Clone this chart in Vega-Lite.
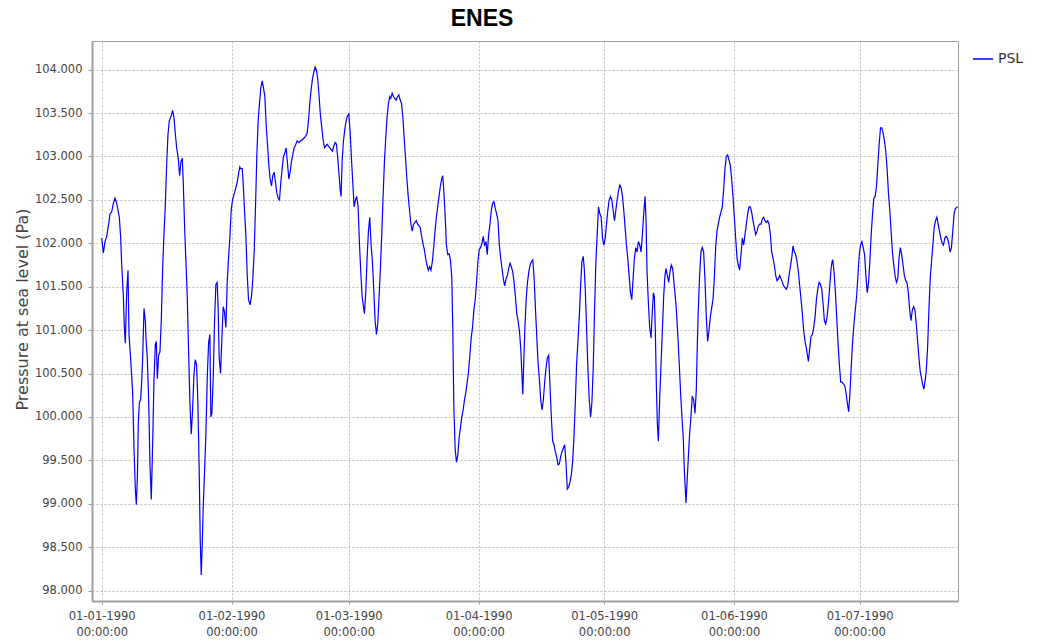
{
  "$schema": "https://vega.github.io/schema/vega-lite/v6.json",
  "width": 866,
  "height": 560,
  "autosize": "none",
  "padding": {"left": 92, "top": 41, "right": 84, "bottom": 41},
  "background": "white",
  "title": {"text": "ENES", "font": "Liberation Sans", "fontSize": 23, "fontWeight": "bold", "color": "#000000", "anchor": "middle", "frame": "group", "dx": -43, "dy": 22, "offset": 14, "baseline": "alphabetic"},
  "config": {
    "view": {"stroke": "#a0a0a0", "strokeWidth": 1},
    "axis": {"labelFont": "DejaVu Sans", "labelColor": "#444444", "domainColor": "#a0a0a0", "domainWidth": 2, "tickColor": "#a0a0a0", "gridColor": "#bdbdbd", "gridDash": [2, 2], "gridWidth": 1}
  },
  "data": {"values": [
{"day":0.00,"psl":102060},{"day":0.40,"psl":101890},{"day":0.79,"psl":102020},{"day":1.19,"psl":102080},{"day":1.59,"psl":102200},{"day":1.99,"psl":102340},{"day":2.38,"psl":102360},{"day":2.78,"psl":102460},{"day":3.18,"psl":102520},{"day":3.58,"psl":102460},{"day":4.21,"psl":102300},{"day":4.53,"psl":102060},{"day":4.77,"psl":101750},{"day":5.17,"psl":101390},{"day":5.41,"psl":101030},{"day":5.64,"psl":100850},{"day":5.96,"psl":101430},{"day":6.28,"psl":101690},{"day":6.52,"psl":100950},{"day":6.92,"psl":100660},{"day":7.39,"psl":100280},{"day":7.71,"psl":99640},{"day":8.03,"psl":99170},{"day":8.27,"psl":98990},{"day":8.51,"psl":99290},{"day":8.74,"psl":99920},{"day":8.98,"psl":100160},{"day":9.30,"psl":100200},{"day":9.54,"psl":100400},{"day":9.78,"psl":100680},{"day":10.10,"psl":101250},{"day":10.41,"psl":101110},{"day":10.57,"psl":100910},{"day":10.89,"psl":100680},{"day":11.21,"psl":100200},{"day":11.53,"psl":99450},{"day":11.84,"psl":99050},{"day":12.16,"psl":99680},{"day":12.48,"psl":100420},{"day":12.80,"psl":100830},{"day":13.04,"psl":100870},{"day":13.28,"psl":100440},{"day":13.59,"psl":100710},{"day":13.91,"psl":100750},{"day":14.23,"psl":101110},{"day":14.55,"psl":101710},{"day":14.86,"psl":102100},{"day":15.18,"psl":102420},{"day":15.50,"psl":102900},{"day":15.82,"psl":103250},{"day":16.14,"psl":103410},{"day":16.61,"psl":103470},{"day":16.93,"psl":103530},{"day":17.25,"psl":103450},{"day":17.57,"psl":103270},{"day":17.89,"psl":103100},{"day":18.28,"psl":102980},{"day":18.60,"psl":102780},{"day":18.92,"psl":102940},{"day":19.24,"psl":102980},{"day":19.48,"psl":102700},{"day":19.79,"psl":102200},{"day":20.11,"psl":101790},{"day":20.43,"psl":101390},{"day":20.75,"psl":100750},{"day":21.07,"psl":100160},{"day":21.38,"psl":99800},{"day":21.70,"psl":100080},{"day":22.02,"psl":100480},{"day":22.34,"psl":100660},{"day":22.66,"psl":100600},{"day":22.97,"psl":100160},{"day":23.29,"psl":99370},{"day":23.53,"psl":98570},{"day":23.77,"psl":98180},{"day":24.01,"psl":98530},{"day":24.25,"psl":98970},{"day":24.56,"psl":99370},{"day":24.88,"psl":99800},{"day":25.20,"psl":100440},{"day":25.52,"psl":100850},{"day":25.83,"psl":100950},{"day":26.07,"psl":100000},{"day":26.31,"psl":100040},{"day":26.63,"psl":100440},{"day":26.95,"psl":101110},{"day":27.27,"psl":101530},{"day":27.58,"psl":101550},{"day":27.82,"psl":101230},{"day":28.06,"psl":100680},{"day":28.38,"psl":100500},{"day":28.70,"psl":100910},{"day":29.01,"psl":101270},{"day":29.33,"psl":101210},{"day":29.65,"psl":101030},{"day":29.97,"psl":101550},{"day":30.29,"psl":101830},{"day":30.60,"psl":102060},{"day":30.92,"psl":102380},{"day":31.24,"psl":102500},{"day":31.72,"psl":102580},{"day":32.03,"psl":102640},{"day":32.35,"psl":102700},{"day":32.67,"psl":102800},{"day":32.99,"psl":102880},
{"day":33.15,"psl":102860},{"day":33.55,"psl":102860},{"day":33.78,"psl":102700},{"day":34.10,"psl":102380},{"day":34.42,"psl":102100},{"day":34.74,"psl":101650},{"day":35.06,"psl":101350},{"day":35.45,"psl":101290},{"day":35.77,"psl":101390},{"day":36.09,"psl":101590},{"day":36.41,"psl":101900},{"day":36.73,"psl":102420},{"day":37.05,"psl":103020},{"day":37.36,"psl":103410},{"day":37.68,"psl":103610},{"day":38.00,"psl":103790},{"day":38.32,"psl":103870},{"day":38.64,"psl":103790},{"day":38.96,"psl":103690},{"day":39.27,"psl":103370},{"day":39.59,"psl":103140},{"day":39.91,"psl":102900},{"day":40.23,"psl":102740},{"day":40.55,"psl":102660},{"day":40.86,"psl":102780},{"day":41.18,"psl":102820},{"day":41.50,"psl":102700},{"day":41.82,"psl":102580},{"day":42.14,"psl":102520},{"day":42.46,"psl":102500},{"day":42.77,"psl":102700},{"day":43.09,"psl":102860},{"day":43.41,"psl":103000},{"day":43.73,"psl":103040},{"day":44.05,"psl":103100},{"day":44.37,"psl":102920},{"day":44.68,"psl":102740},{"day":45.00,"psl":102820},{"day":45.32,"psl":102940},{"day":45.64,"psl":103020},{"day":45.96,"psl":103100},{"day":46.28,"psl":103130},{"day":46.67,"psl":103180},{"day":47.07,"psl":103160},{"day":47.47,"psl":103180},{"day":47.87,"psl":103190},{"day":48.26,"psl":103210},{"day":48.66,"psl":103230},{"day":49.06,"psl":103270},{"day":49.38,"psl":103410},{"day":49.69,"psl":103610},{"day":50.01,"psl":103770},{"day":50.33,"psl":103890},{"day":50.65,"psl":103970},{"day":50.97,"psl":104030},{"day":51.29,"psl":103990},{"day":51.60,"psl":103890},{"day":51.92,"psl":103690},{"day":52.24,"psl":103470},{"day":52.56,"psl":103330},{"day":52.88,"psl":103190},{"day":53.20,"psl":103100},{"day":53.51,"psl":103120},{"day":53.83,"psl":103140},{"day":54.15,"psl":103120},{"day":54.47,"psl":103100},{"day":54.79,"psl":103080},{"day":55.11,"psl":103060},{"day":55.42,"psl":103120},{"day":55.74,"psl":103160},{"day":56.06,"psl":103140},{"day":56.38,"psl":102980},{"day":56.70,"psl":102780},{"day":56.94,"psl":102620},{"day":57.17,"psl":102540},{"day":57.41,"psl":102940},{"day":57.73,"psl":103180},{"day":58.05,"psl":103310},{"day":58.37,"psl":103410},{"day":58.69,"psl":103470},{"day":59.00,"psl":103490},{"day":59.32,"psl":103290},{"day":59.64,"psl":102980},{"day":59.96,"psl":102700},{"day":60.28,"psl":102420},{"day":60.60,"psl":102500},{"day":60.91,"psl":102540},{"day":61.23,"psl":102420},{"day":61.55,"psl":102000},{"day":61.87,"psl":101670},{"day":62.19,"psl":101390},{"day":62.51,"psl":101270},{"day":62.74,"psl":101190},{"day":63.06,"psl":101430},{"day":63.38,"psl":101830},{"day":63.70,"psl":102140},{"day":64.02,"psl":102300},{"day":64.33,"psl":101980},{"day":64.65,"psl":101790},{"day":64.97,"psl":101470},{"day":65.29,"psl":101110},{"day":65.61,"psl":100950},{"day":65.92,"psl":101070},{"day":66.24,"psl":101390},{"day":66.56,"psl":101710},{"day":66.88,"psl":102100},{"day":67.20,"psl":102540},{"day":67.52,"psl":102940},{"day":67.83,"psl":103210},{"day":68.15,"psl":103450},{"day":68.47,"psl":103610},{"day":68.79,"psl":103690},
{"day":69.04,"psl":103670},{"day":69.36,"psl":103730},{"day":69.68,"psl":103690},{"day":70.00,"psl":103670},{"day":70.32,"psl":103650},{"day":70.64,"psl":103690},{"day":70.96,"psl":103710},{"day":71.28,"psl":103650},{"day":71.60,"psl":103610},{"day":71.92,"psl":103450},{"day":72.24,"psl":103210},{"day":72.56,"psl":102980},{"day":72.88,"psl":102740},{"day":73.20,"psl":102540},{"day":73.52,"psl":102380},{"day":73.84,"psl":102220},{"day":74.16,"psl":102140},{"day":74.48,"psl":102220},{"day":74.80,"psl":102240},{"day":75.12,"psl":102260},{"day":75.44,"psl":102220},{"day":75.76,"psl":102200},{"day":76.08,"psl":102180},{"day":76.40,"psl":102080},{"day":76.72,"psl":102000},{"day":77.04,"psl":101930},{"day":77.36,"psl":101830},{"day":77.68,"psl":101750},{"day":78.00,"psl":101690},{"day":78.32,"psl":101730},{"day":78.64,"psl":101690},{"day":78.96,"psl":101790},{"day":79.28,"psl":101950},{"day":79.60,"psl":102140},{"day":79.92,"psl":102300},{"day":80.24,"psl":102420},{"day":80.56,"psl":102540},{"day":80.88,"psl":102660},{"day":81.20,"psl":102740},{"day":81.44,"psl":102780},{"day":81.68,"psl":102620},{"day":82.00,"psl":102340},{"day":82.32,"psl":101980},{"day":82.64,"psl":101870},{"day":82.96,"psl":101880},{"day":83.28,"psl":101810},{"day":83.60,"psl":101610},{"day":83.84,"psl":101030},{"day":84.08,"psl":100160},{"day":84.40,"psl":99640},{"day":84.72,"psl":99480},{"day":85.04,"psl":99560},{"day":85.36,"psl":99760},{"day":85.68,"psl":99880},{"day":86.00,"psl":100000},{"day":86.32,"psl":100080},{"day":86.64,"psl":100200},{"day":86.96,"psl":100280},{"day":87.28,"psl":100400},{"day":87.60,"psl":100520},{"day":87.92,"psl":100710},{"day":88.24,"psl":100910},{"day":88.56,"psl":101030},{"day":88.88,"psl":101230},{"day":89.20,"psl":101350},{"day":89.52,"psl":101550},{"day":89.84,"psl":101790},{"day":90.16,"psl":101930},{"day":90.48,"psl":101950},{"day":90.80,"psl":102000},{"day":91.12,"psl":102080},{"day":91.44,"psl":101970},{"day":91.76,"psl":102020},{"day":92.08,"psl":101870},{"day":92.40,"psl":102100},{"day":92.72,"psl":102220},{"day":93.04,"psl":102380},{"day":93.36,"psl":102460},{"day":93.68,"psl":102480},{"day":94.00,"psl":102400},{"day":94.32,"psl":102340},{"day":94.64,"psl":102260},{"day":94.96,"psl":101980},{"day":95.28,"psl":101830},{"day":95.60,"psl":101710},{"day":95.92,"psl":101590},{"day":96.24,"psl":101510},{"day":96.56,"psl":101590},{"day":96.88,"psl":101630},{"day":97.20,"psl":101710},{"day":97.52,"psl":101770},{"day":97.84,"psl":101730},{"day":98.16,"psl":101670},{"day":98.48,"psl":101550},{"day":98.80,"psl":101390},{"day":99.12,"psl":101190},{"day":99.44,"psl":101110},{"day":99.76,"psl":100990},{"day":100.08,"psl":100790},{"day":100.32,"psl":100520},{"day":100.56,"psl":100260},{"day":100.80,"psl":100640},{"day":101.04,"psl":100990},{"day":101.36,"psl":101350},{"day":101.68,"psl":101550},{"day":102.00,"psl":101670},{"day":102.32,"psl":101750},{"day":102.64,"psl":101790},{"day":102.96,"psl":101810},{"day":103.28,"psl":101590},{"day":103.60,"psl":101230},{"day":103.92,"psl":100910},
{"day":104.21,"psl":100620},{"day":104.52,"psl":100440},{"day":104.84,"psl":100200},{"day":105.16,"psl":100080},{"day":105.48,"psl":100200},{"day":105.79,"psl":100400},{"day":106.11,"psl":100560},{"day":106.43,"psl":100680},{"day":106.75,"psl":100710},{"day":107.06,"psl":100360},{"day":107.38,"psl":100000},{"day":107.70,"psl":99720},{"day":108.02,"psl":99680},{"day":108.33,"psl":99600},{"day":108.65,"psl":99540},{"day":108.97,"psl":99450},{"day":109.29,"psl":99460},{"day":109.60,"psl":99540},{"day":109.92,"psl":99600},{"day":110.24,"psl":99640},{"day":110.56,"psl":99680},{"day":110.87,"psl":99480},{"day":111.19,"psl":99170},{"day":111.51,"psl":99190},{"day":111.83,"psl":99250},{"day":112.14,"psl":99330},{"day":112.46,"psl":99480},{"day":112.78,"psl":99760},{"day":113.10,"psl":100160},{"day":113.41,"psl":100600},{"day":113.73,"psl":100870},{"day":114.05,"psl":101150},{"day":114.37,"psl":101510},{"day":114.68,"psl":101790},{"day":115.00,"psl":101850},{"day":115.24,"psl":101710},{"day":115.48,"psl":101470},{"day":115.79,"psl":101030},{"day":116.11,"psl":100560},{"day":116.43,"psl":100200},{"day":116.75,"psl":100000},{"day":117.06,"psl":100160},{"day":117.38,"psl":100560},{"day":117.70,"psl":101230},{"day":118.02,"psl":101790},{"day":118.33,"psl":102100},{"day":118.65,"psl":102420},{"day":118.97,"psl":102340},{"day":119.29,"psl":102300},{"day":119.60,"psl":102060},{"day":119.92,"psl":101980},{"day":120.24,"psl":102060},{"day":120.56,"psl":102220},{"day":120.87,"psl":102380},{"day":121.19,"psl":102500},{"day":121.51,"psl":102540},{"day":121.83,"psl":102500},{"day":122.14,"psl":102380},{"day":122.46,"psl":102260},{"day":122.78,"psl":102380},{"day":123.10,"psl":102500},{"day":123.41,"psl":102600},{"day":123.73,"psl":102670},{"day":124.05,"psl":102640},{"day":124.37,"psl":102540},{"day":124.68,"psl":102380},{"day":125.00,"psl":102180},{"day":125.32,"psl":101980},{"day":125.63,"psl":101830},{"day":125.95,"psl":101630},{"day":126.27,"psl":101430},{"day":126.59,"psl":101350},{"day":126.90,"psl":101590},{"day":127.22,"psl":101830},{"day":127.54,"psl":101950},{"day":127.86,"psl":101900},{"day":128.17,"psl":102020},{"day":128.49,"psl":101980},{"day":128.81,"psl":101900},{"day":129.13,"psl":102100},{"day":129.44,"psl":102340},{"day":129.76,"psl":102540},{"day":130.00,"psl":102260},{"day":130.24,"psl":101670},{"day":130.56,"psl":101310},{"day":130.87,"psl":101030},{"day":131.19,"psl":100910},{"day":131.43,"psl":101150},{"day":131.75,"psl":101430},{"day":131.98,"psl":101390},{"day":132.22,"psl":100990},{"day":132.46,"psl":100360},{"day":132.70,"psl":99920},{"day":132.94,"psl":99720},{"day":133.25,"psl":100200},{"day":133.57,"psl":100600},{"day":133.89,"psl":100990},{"day":134.21,"psl":101390},{"day":134.52,"psl":101630},{"day":134.76,"psl":101710},{"day":135.08,"psl":101630},{"day":135.40,"psl":101550},{"day":135.71,"psl":101670},{"day":136.03,"psl":101750},{"day":136.35,"psl":101710},{"day":136.67,"psl":101550},{"day":136.98,"psl":101390},{"day":137.30,"psl":101190},{"day":137.62,"psl":100910},{"day":137.94,"psl":100600},{"day":138.25,"psl":100280},{"day":138.57,"psl":100000},{"day":138.89,"psl":99760},{"day":139.13,"psl":99400},
{"day":139.53,"psl":99010},{"day":139.76,"psl":99210},{"day":140.08,"psl":99520},{"day":140.40,"psl":99800},{"day":140.72,"psl":100000},{"day":141.04,"psl":100240},{"day":141.36,"psl":100200},{"day":141.68,"psl":100040},{"day":141.99,"psl":100300},{"day":142.24,"psl":100830},{"day":142.47,"psl":101230},{"day":142.79,"psl":101630},{"day":143.11,"psl":101900},{"day":143.43,"psl":101950},{"day":143.75,"psl":101900},{"day":144.07,"psl":101590},{"day":144.39,"psl":101150},{"day":144.71,"psl":100870},{"day":145.02,"psl":100990},{"day":145.34,"psl":101150},{"day":145.66,"psl":101250},{"day":145.98,"psl":101350},{"day":146.30,"psl":101590},{"day":146.62,"psl":101950},{"day":146.94,"psl":102140},{"day":147.25,"psl":102220},{"day":147.57,"psl":102300},{"day":147.89,"psl":102360},{"day":148.21,"psl":102420},{"day":148.53,"psl":102620},{"day":148.85,"psl":102860},{"day":149.17,"psl":103000},{"day":149.49,"psl":103020},{"day":149.80,"psl":102960},{"day":150.12,"psl":102900},{"day":150.44,"psl":102740},{"day":150.76,"psl":102540},{"day":151.08,"psl":102300},{"day":151.40,"psl":102060},{"day":151.72,"psl":101830},{"day":152.04,"psl":101750},{"day":152.35,"psl":101690},{"day":152.67,"psl":101870},{"day":152.99,"psl":102060},{"day":153.31,"psl":101980},{"day":153.63,"psl":102100},{"day":153.95,"psl":102220},{"day":154.27,"psl":102340},{"day":154.59,"psl":102420},{"day":154.90,"psl":102420},{"day":155.22,"psl":102360},{"day":155.54,"psl":102260},{"day":155.86,"psl":102180},{"day":156.18,"psl":102100},{"day":156.50,"psl":102140},{"day":156.82,"psl":102200},{"day":157.14,"psl":102220},{"day":157.45,"psl":102220},{"day":157.77,"psl":102280},{"day":158.09,"psl":102300},{"day":158.41,"psl":102260},{"day":158.73,"psl":102240},{"day":159.05,"psl":102260},{"day":159.37,"psl":102220},{"day":159.69,"psl":102100},{"day":160.00,"psl":101900},{"day":160.32,"psl":101830},{"day":160.64,"psl":101750},{"day":160.96,"psl":101630},{"day":161.28,"psl":101570},{"day":161.60,"psl":101590},{"day":161.92,"psl":101630},{"day":162.24,"psl":101590},{"day":162.55,"psl":101550},{"day":162.87,"psl":101510},{"day":163.19,"psl":101490},{"day":163.51,"psl":101470},{"day":163.83,"psl":101510},{"day":164.15,"psl":101630},{"day":164.47,"psl":101730},{"day":164.78,"psl":101830},{"day":165.10,"psl":101970},{"day":165.42,"psl":101900},{"day":165.74,"psl":101870},{"day":166.06,"psl":101790},{"day":166.38,"psl":101670},{"day":166.70,"psl":101510},{"day":167.02,"psl":101350},{"day":167.33,"psl":101190},{"day":167.65,"psl":100990},{"day":167.97,"psl":100870},{"day":168.29,"psl":100790},{"day":168.61,"psl":100690},{"day":168.77,"psl":100640},{"day":169.09,"psl":100790},{"day":169.41,"psl":100930},{"day":169.73,"psl":100950},{"day":170.04,"psl":101030},{"day":170.36,"psl":101150},{"day":170.68,"psl":101350},{"day":171.00,"psl":101470},{"day":171.32,"psl":101550},{"day":171.64,"psl":101530},{"day":171.96,"psl":101470},{"day":172.27,"psl":101310},{"day":172.59,"psl":101110},{"day":172.91,"psl":101070},{"day":173.23,"psl":101150},{"day":173.55,"psl":101310},{"day":173.87,"psl":101510},{"day":174.19,"psl":101710},{"day":174.43,"psl":101790},
{"day":174.59,"psl":101810},{"day":174.90,"psl":101670},{"day":175.22,"psl":101430},{"day":175.54,"psl":101150},{"day":175.85,"psl":100850},{"day":176.17,"psl":100600},{"day":176.49,"psl":100400},{"day":176.80,"psl":100400},{"day":177.12,"psl":100380},{"day":177.44,"psl":100360},{"day":177.75,"psl":100280},{"day":178.07,"psl":100160},{"day":178.39,"psl":100060},{"day":178.70,"psl":100280},{"day":179.02,"psl":100600},{"day":179.34,"psl":100870},{"day":179.65,"psl":101070},{"day":179.97,"psl":101230},{"day":180.29,"psl":101390},{"day":180.60,"psl":101630},{"day":180.92,"psl":101870},{"day":181.24,"psl":101980},{"day":181.55,"psl":102020},{"day":181.87,"psl":101950},{"day":182.19,"psl":101870},{"day":182.50,"psl":101630},{"day":182.82,"psl":101430},{"day":183.14,"psl":101550},{"day":183.45,"psl":101790},{"day":183.77,"psl":102100},{"day":184.09,"psl":102340},{"day":184.40,"psl":102520},{"day":184.72,"psl":102540},{"day":185.04,"psl":102660},{"day":185.35,"psl":102900},{"day":185.67,"psl":103140},{"day":185.99,"psl":103330},{"day":186.30,"psl":103330},{"day":186.62,"psl":103270},{"day":186.94,"psl":103180},{"day":187.25,"psl":103060},{"day":187.57,"psl":102860},{"day":187.89,"psl":102580},{"day":188.21,"psl":102380},{"day":188.52,"psl":102140},{"day":188.84,"psl":101900},{"day":189.16,"psl":101750},{"day":189.47,"psl":101630},{"day":189.79,"psl":101550},{"day":190.11,"psl":101590},{"day":190.42,"psl":101830},{"day":190.74,"psl":101950},{"day":191.06,"psl":101870},{"day":191.37,"psl":101750},{"day":191.69,"psl":101630},{"day":192.01,"psl":101570},{"day":192.32,"psl":101550},{"day":192.64,"psl":101430},{"day":192.96,"psl":101230},{"day":193.27,"psl":101110},{"day":193.59,"psl":101230},{"day":193.91,"psl":101270},{"day":194.22,"psl":101230},{"day":194.54,"psl":101070},{"day":194.86,"psl":100870},{"day":195.17,"psl":100680},{"day":195.49,"psl":100520},{"day":195.81,"psl":100440},{"day":196.12,"psl":100360},{"day":196.36,"psl":100320},{"day":196.60,"psl":100400},{"day":196.91,"psl":100520},{"day":197.23,"psl":100790},{"day":197.55,"psl":101230},{"day":197.86,"psl":101590},{"day":198.18,"psl":101790},{"day":198.50,"psl":101980},{"day":198.81,"psl":102180},{"day":199.13,"psl":102260},{"day":199.45,"psl":102300},{"day":199.76,"psl":102220},{"day":200.08,"psl":102140},{"day":200.40,"psl":102060},{"day":200.71,"psl":102000},{"day":201.03,"psl":101980},{"day":201.35,"psl":102060},{"day":201.66,"psl":102080},{"day":201.98,"psl":102060},{"day":202.30,"psl":102000},{"day":202.61,"psl":101900},{"day":202.93,"psl":101950},{"day":203.25,"psl":102140},{"day":203.57,"psl":102340},{"day":203.88,"psl":102400},{"day":204.40,"psl":102420}
  ]},
  "mark": {"type": "line", "strokeWidth": 1.2, "clip": true},
  "encoding": {
    "x": {
      "field": "day", "type": "quantitative",
      "scale": {"domain": [-2.32, 204.5], "nice": false, "zero": false},
      "axis": {
        "title": null, "grid": true,
        "values": [0, 31, 59, 90, 120, 151, 181],
        "labelExpr": "[timeFormat(datetime(1990, 0, 1 + datum.value), '%d-%m-%Y'), '00:00:00']",
        "labelFontSize": 11.5, "labelLineHeight": 16, "labelPadding": 6, "tickSize": 3,
        "labelBaseline": "top", "labelFlush": false, "labelOverlap": false
      }
    },
    "y": {
      "field": "psl", "type": "quantitative",
      "scale": {"domain": [97880, 104330], "nice": false, "zero": false},
      "axis": {
        "title": "Pressure at sea level (Pa)", "grid": true,
        "values": [98000, 98500, 99000, 99500, 100000, 100500, 101000, 101500, 102000, 102500, 103000, 103500, 104000],
        "labelExpr": "replace(format(datum.value, ',d'), ',', '.')",
        "labelFontSize": 11.5, "labelPadding": 6, "tickSize": 4,
        "titleFont": "DejaVu Sans", "titleFontSize": 16, "titleFontWeight": "normal", "titleColor": "#444444",
        "titleX": -70, "titleY": 268, "titleAngle": 270, "titleAlign": "center", "titleBaseline": "middle"
      }
    },
    "color": {
      "datum": "PSL",
      "scale": {"domain": ["PSL"], "range": ["#0000ff"]},
      "legend": {
        "title": null, "orient": "none", "legendX": 880, "legendY": 7,
        "symbolType": "stroke", "symbolSize": 400, "symbolStrokeWidth": 1.5,
        "labelFont": "DejaVu Sans", "labelFontSize": 14, "labelColor": "#333333", "labelOffset": 4, "padding": 0
      }
    }
  }
}
